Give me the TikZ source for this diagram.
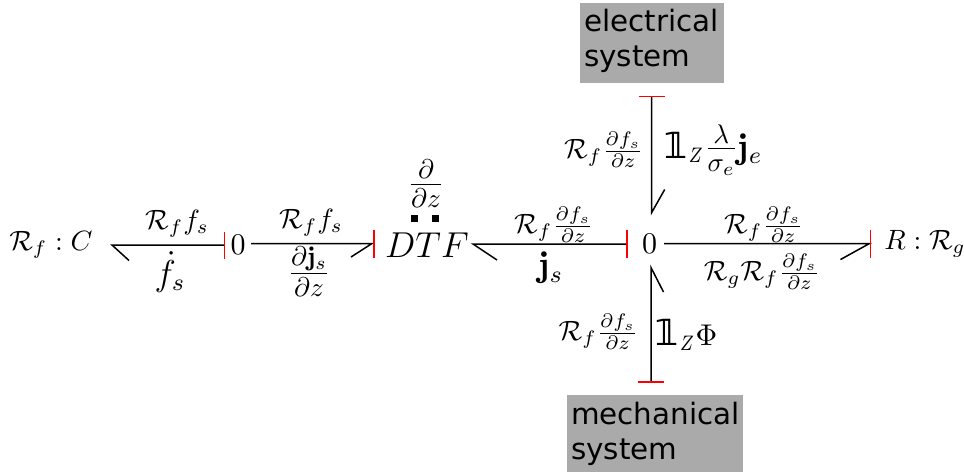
\documentclass[tikz,border=0pt]{standalone}
\usepackage{amsmath}
\usepackage{fontspec}
\newfontfamily\boxfont{DejaVu Sans}
\usetikzlibrary{calc}
\definecolor{boxgray}{HTML}{AAAAAA}
\tikzset{
  lbl/.style={inner sep=0pt,outer sep=0pt},
  bond/.style={draw=black,line width=0.5pt,line join=miter},
  stroke/.style={draw=red,line width=0.5pt},
  dot/.style={fill=black},
  boxtext/.style={lbl,anchor=west,font=\fontsize{9.8}{11.7}\boxfont,align=left}
}
\newcommand{\Rdfs}{\mathcal{R}_f\tfrac{\partial f_s}{\partial z}}
\newcommand{\bigfrac}[2]{\scalebox{0.9}{\Large$\textstyle\frac{#1}{#2}$}}
\newcommand{\unitone}{\mbox{\fontsize{12}{12}\boxfont\bfseries\symbol{"1D7D9}}}
\newcommand{\subZ}{\scalebox{0.8}[1]{$\scriptstyle Z$}}
\newcommand{\sz}[1]{\scalebox{0.93}{#1}}
\begin{document}
\begin{tikzpicture}[x=0.33333pt,y=-0.33333pt]
\useasboundingbox (0,0) rectangle (964,473);
% gray boxes
\fill[boxgray] (580,3) rectangle (724,83);
\fill[boxgray] (567,395) rectangle (743,472);
\node[boxtext] (elec) at (584,41) {electrical\\system};
\node[boxtext] (mech) at (571,434) {mechanical\\system};
% main nodes
\node[lbl] (C) at (51,245) {\sz{$\mathcal{R}_f:C$}};
\node[lbl] (zeroA) at (238,245) {$0$};
\node[lbl,font=\large] (DTF) at (427,245) {$DTF$};
\node[lbl] (zeroB) at (649.5,244) {$0$};
\node[lbl] (R) at (925,244) {\sz{$R:\mathcal{R}_g$}};
% named bond ends
\coordinate (cE) at ($(C)+(61,0)$);
\coordinate (aW) at ($(zeroA)+(-13.5,0)$);
\coordinate (aE) at ($(zeroA)+(13,-1.3)$);
\coordinate (dW) at ($(DTF)+(-53,-1.5)$);
\coordinate (dE) at ($(DTF)+(46,-1)$);
\coordinate (bW) at ($(zeroB)+(-22.5,0)$);
\coordinate (bE) at ($(zeroB)+(14.5,-0.5)$);
\coordinate (rW) at ($(R)+(-54.5,-0.5)$);
\coordinate (bN) at ($(zeroB)+(2.2,-31.5)$);
\coordinate (bS) at ($(zeroB)+(1.5,23.5)$);
\coordinate (eS) at ($(zeroB)+(2.2,-147.5)$);
\coordinate (mN) at ($(zeroB)+(1.5,138)$);
% bonds
\draw[bond] ($(cE)+(17,15.5)$) -- (cE) -- (aW);
\draw[stroke] ($(aW)+(0,-13.5)$) -- ($(aW)+(0,13.5)$);
\draw[bond] (aE) -- ($(dW)+(-2,0)$) -- ($(dW)+(-23,13.5)$);
\draw[stroke] ($(dW)+(0,-14)$) -- ($(dW)+(0,14)$);
\draw[bond] ($(dE)+(24,16)$) -- (dE) -- (bW);
\draw[stroke] ($(bW)+(0,-14)$) -- ($(bW)+(0,14)$);
\draw[bond] (bE) -- ($(rW)+(-1,0)$) -- ($(rW)+(-30,16)$);
\draw[stroke] ($(rW)+(0,-14)$) -- ($(rW)+(0,14)$);
\draw[bond] (eS) -- (bN) -- ($(bN)+(13,-23)$);
\draw[stroke] ($(eS)+(-13,0)$) -- ($(eS)+(13,0)$);
\draw[bond] (mN) -- (bS) -- ($(bS)+(12.5,24.5)$);
\draw[stroke] ($(mN)+(-13,0)$) -- ($(mN)+(13,0)$);
% dots
\fill[dot] (411,215) rectangle (418,222);
\fill[dot] (432,215) rectangle (439,222);
% labels
\node[lbl,anchor=base] (lDd) at (426,194) {$\bigfrac{\partial}{\partial z}$};
\node[lbl] (l1) at (177,224) {\sz{$\mathcal{R}_f f_s$}};
\node[lbl] (l2) at (170,272) {\large$\dot{f}_s$};
\node[lbl] (l3) at (311,223) {\sz{$\mathcal{R}_f f_s$}};
\node[lbl,anchor=base] (l4) at (309,283) {$\bigfrac{\partial \mathbf{j}_s}{\partial z}$};
\node[lbl] (l5) at (554,225) {\sz{$\Rdfs$}};
\node[lbl] (l6) at (551,268) {\large$\mathbf{j}_s$};
\node[lbl] (l7) at (764,225) {\sz{$\Rdfs$}};
\node[lbl] (l8) at (762,272) {\sz{$\mathcal{R}_g\Rdfs$}};
\node[lbl] (l9) at (604,150) {\sz{$\Rdfs$}};
\node[lbl] (l10) at (713,150) {$\unitone_{\subZ}\bigfrac{\lambda}{\sigma_e}\text{\large$\mathbf{j}_e$}$};
\node[lbl] (l11) at (598.5,332) {\sz{$\Rdfs$}};
\node[lbl] (l12) at (686,335) {$\unitone_{\subZ}\Phi$};
\end{tikzpicture}
\end{document}
